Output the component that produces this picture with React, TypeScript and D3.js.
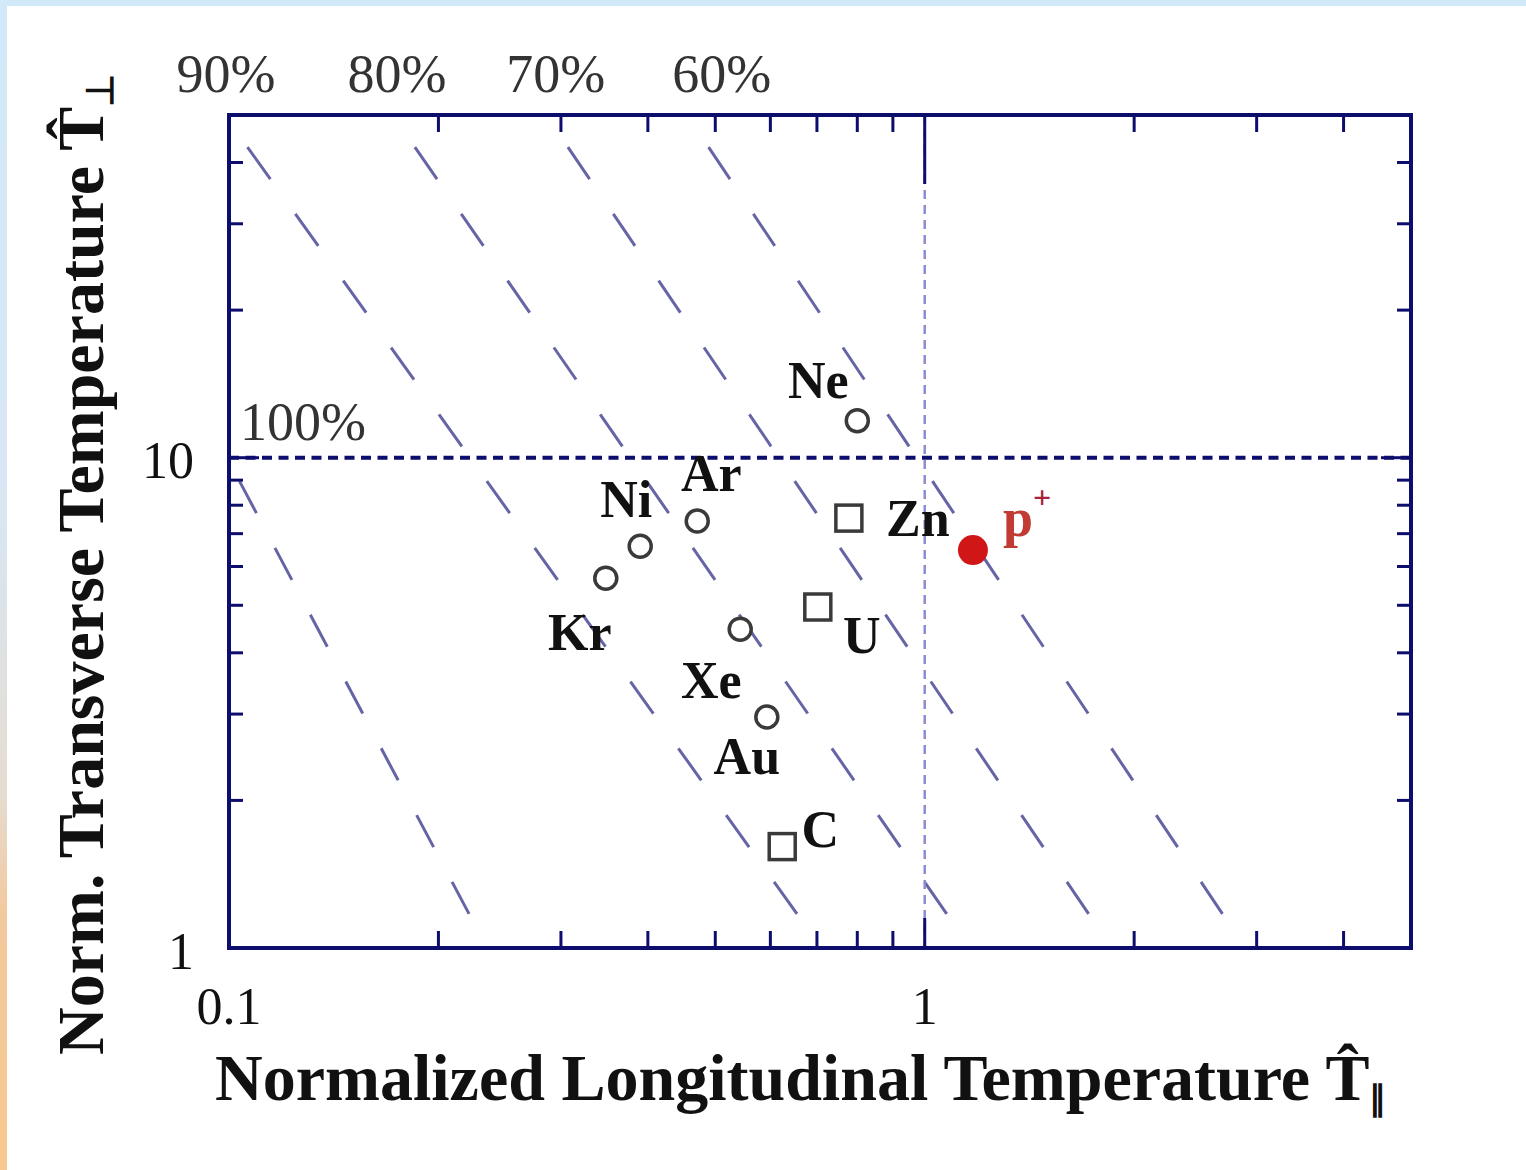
import * as d3 from 'd3'

const W = 1526
const H = 1170

// axis ticks
const xMajorTicks = [0.1, 1]
const xMinorTicks = [0.2, 0.3, 0.4, 0.5, 0.6, 0.7, 0.8, 0.9, 2, 3, 4]
const yMajorTicks = [1, 10]
const yMinorTicks = [2, 3, 4, 5, 6, 7, 8, 9, 20, 30, 40]
const xTickLabels = ['0.1', '1']
const yTickLabels = ['1', '10']

// measured ion beams (normalized temperatures)
const ionNames = ['Ne', 'Ar', 'Ni', 'Kr', 'Xe', 'Au', 'C', 'Zn', 'U']
const ionTpar = [0.80, 0.471, 0.39, 0.348, 0.543, 0.593, 0.624, 0.778, 0.702]
const ionTperp = [11.9, 7.43, 6.6, 5.68, 4.47, 2.96, 1.61, 7.53, 4.96]
const ionMarker = ['circle', 'circle', 'circle', 'circle', 'circle', 'circle', 'square', 'square', 'square']

// proton point
const protonTpar = 1.173
const protonTperp = 6.48

// constant-fraction curves: T_par at the top and bottom ends
const curveLabels = ['100%', '90%', '80%', '70%', '60%']
const curveTopTpar = [0.0576, 0.1063, 0.185, 0.307, 0.489]
const curveBottomTpar = [0.2225, 0.66, 1.083, 1.732, 2.697]
const curveTopTperp = 43.0
const curveBottomTperp = 1.157
// where the percent labels sit along the top
const percentLabelTpar = [0.099, 0.1744, 0.295, 0.511]

const NAVY = '#0d0d6e'
const SERIF = '"Liberation Serif", "Times New Roman", serif'

// pixel nudges for the ion name labels
const nudge: Record<string, [number, number]> = {
  Ne: [-39, -40],
  Ar: [14, -47],
  Ni: [-14, -47],
  Kr: [-26, 54],
  Xe: [-29, 51],
  Au: [-20, 40],
  C: [38, -17],
  Zn: [69, 0],
  U: [44, 28],
}

export default function App() {
  const left = 229
  const right = 1411
  const top = 115
  const bottom = 948

  const x = d3.scaleLog().domain([0.1, 5]).range([left, right])
  const y = d3.scaleLog().domain([1, 50]).range([bottom, top])

  const minorLen = 17
  const majorLen = 30

  // dashes share the same vertical rhythm on every curve
  const dashV = 32
  const gapV = 34.8

  const ions = ionNames.map((name, i) => ({
    name,
    tpar: ionTpar[i],
    tperp: ionTperp[i],
    marker: ionMarker[i],
  }))

  return (
    <svg width={W} height={H} style={{ position: 'absolute', left: 0, top: 0 }} fontFamily={SERIF}>
      <defs>
        <linearGradient id="edge" x1="0" y1="0" x2="0" y2="1">
          <stop offset="0%" stopColor="#d2e9f9" />
          <stop offset="45%" stopColor="#d8e6f2" />
          <stop offset="68%" stopColor="#e6dcd0" />
          <stop offset="78%" stopColor="#f2c99e" />
          <stop offset="100%" stopColor="#f8c890" />
        </linearGradient>
        <clipPath id="plot">
          <rect x={left} y={top} width={right - left} height={bottom - top} />
        </clipPath>
      </defs>

      <rect width={W} height={H} fill="#fff" />
      <rect x={0} y={0} width={W} height={6} fill="#d0e9f8" />
      <rect x={0} y={0} width={7} height={H} fill="url(#edge)" />

      {/* constant-fraction curves */}
      <g clipPath="url(#plot)">
        {curveLabels.map((lab, i) => {
          const x0 = x(curveTopTpar[i])
          const y0 = y(curveTopTperp)
          const x1 = x(curveBottomTpar[i])
          const y1 = y(curveBottomTperp)
          const s = Math.hypot(x1 - x0, y1 - y0) / (y1 - y0)
          const line = d3.line<[number, number]>()([
            [x0, y0],
            [x1, y1],
          ])
          return (
            <path
              key={lab}
              d={line ?? ''}
              fill="none"
              stroke="#4a4a96"
              strokeOpacity={0.85}
              strokeWidth={3}
              strokeDasharray={`${dashV * s} ${gapV * s}`}
            />
          )
        })}
      </g>

      {/* reference lines at T = 1 */}
      <line x1={x(1)} x2={x(1)} y1={top} y2={bottom} stroke="#8c8cd2" strokeWidth={2.5} strokeDasharray="9 6" />
      <line x1={left} x2={right} y1={y(10)} y2={y(10)} stroke={NAVY} strokeWidth={4} strokeDasharray="10 6.5" />

      {/* ticks */}
      <g stroke={NAVY} strokeWidth={3}>
        {xMinorTicks.map((t) => (
          <g key={`xm${t}`}>
            <line x1={x(t)} x2={x(t)} y1={bottom} y2={bottom - minorLen} />
            <line x1={x(t)} x2={x(t)} y1={top} y2={top + minorLen} />
          </g>
        ))}
        {xMajorTicks.map((t) => (
          <g key={`xM${t}`}>
            <line x1={x(t)} x2={x(t)} y1={bottom} y2={bottom - majorLen} />
            <line x1={x(t)} x2={x(t)} y1={top} y2={top + majorLen * 2.3} />
          </g>
        ))}
        {yMinorTicks.map((t) => (
          <g key={`ym${t}`}>
            <line x1={left} x2={left + 14} y1={y(t)} y2={y(t)} />
            <line x1={right} x2={right - 14} y1={y(t)} y2={y(t)} />
          </g>
        ))}
        {yMajorTicks.map((t) => (
          <g key={`yM${t}`}>
            <line x1={left} x2={left + majorLen} y1={y(t)} y2={y(t)} />
            <line x1={right} x2={right - majorLen} y1={y(t)} y2={y(t)} />
          </g>
        ))}
      </g>

      {/* frame */}
      <rect x={left} y={top} width={right - left} height={bottom - top} fill="none" stroke={NAVY} strokeWidth={4} />

      {/* tick labels */}
      <g fontSize={52} fill="#111">
        {xMajorTicks.map((t, i) => (
          <text key={`xl${t}`} x={x(t)} y={1006} textAnchor="middle" dominantBaseline="central">
            {xTickLabels[i]}
          </text>
        ))}
        {yMajorTicks.map((t, i) => (
          <text key={`yl${t}`} x={194} y={y(t) + 3} textAnchor="end" dominantBaseline="central">
            {yTickLabels[i]}
          </text>
        ))}
      </g>

      {/* percent labels */}
      <g fontSize={54} fill="#333">
        {percentLabelTpar.map((t, i) => (
          <text key={`pl${i}`} x={x(t)} y={92} textAnchor="middle">
            {curveLabels[i + 1]}
          </text>
        ))}
        <text x={left + 11} y={y(10) - 18}>
          {curveLabels[0]}
        </text>
      </g>

      {/* ion points */}
      {ions.map((d) =>
        d.marker === 'circle' ? (
          <circle key={d.name} cx={x(d.tpar)} cy={y(d.tperp)} r={11} fill="#fff" stroke="#3a3a3a" strokeWidth={3.5} />
        ) : (
          <rect
            key={d.name}
            x={x(d.tpar) - 13}
            y={y(d.tperp) - 13}
            width={26}
            height={26}
            fill="#fff"
            stroke="#3a3a3a"
            strokeWidth={3.5}
          />
        ),
      )}
      <g fontSize={52} fontWeight="bold" fill="#111">
        {ions.map((d) => (
          <text
            key={`t${d.name}`}
            x={x(d.tpar) + nudge[d.name][0]}
            y={y(d.tperp) + nudge[d.name][1]}
            textAnchor="middle"
            dominantBaseline="central"
          >
            {d.name}
          </text>
        ))}
      </g>

      {/* proton */}
      <circle cx={x(protonTpar)} cy={y(protonTperp)} r={15} fill="#d01616" />
      <text x={x(protonTpar) + 30} y={y(protonTperp) - 14} fontSize={54} fontWeight="bold" fill="#c23a34">
        p
        <tspan fontSize={32} dy={-28} fill="#a8203a">
          +
        </tspan>
      </text>

      {/* axis titles */}
      <text x={215} y={1100} fontSize={66} fontWeight="bold" fill="#111">
        {'Normalized Longitudinal Temperature T\u0302'}
        <tspan fontSize={34} dy={10}>
          ∥
        </tspan>
      </text>

      <g transform="translate(103,1055) rotate(-90)">
        <text x={0} y={0} fontSize={66} fontWeight="bold" fill="#111">
          {'Norm. Transverse Temperature T\u0302'}
          <tspan fontSize={38} dy={10}>
            ⊥
          </tspan>
        </text>
      </g>
    </svg>
  )
}
